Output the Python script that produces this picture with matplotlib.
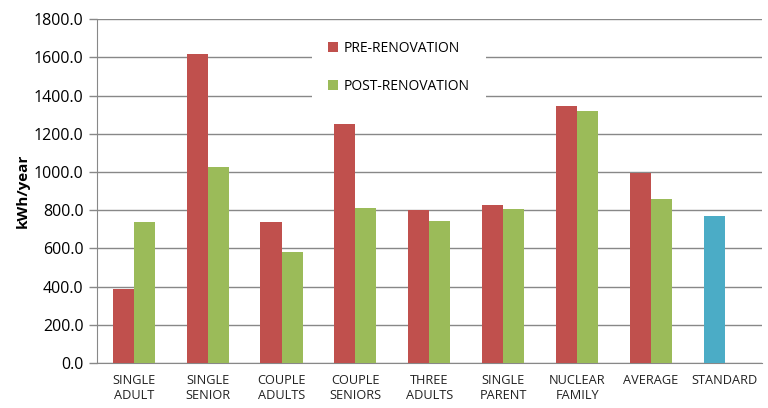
import matplotlib.pyplot as plt
import numpy as np

# Données
categories = ['SINGLE\nADULT', 'SINGLE\nSENIOR', 'COUPLE\nADULTS', 'COUPLE\nSENIORS',
              'THREE\nADULTS', 'SINGLE\nPARENT', 'NUCLEAR\nFAMILY', 'AVERAGE', 'STANDARD']
pre = [387, 1617, 739, 1254, 799, 830, 1345, 994]
post = [738, 1025, 582, 810, 743, 807, 1320, 860]
standard = [769]

plt.rcParams['font.family'] = ['Open Sans', 'DejaVu Sans']

fig = plt.figure(figsize=(7.68, 4.08), dpi=100)
ax = fig.add_axes([0.126, 0.110, 0.866, 0.843])

x = np.arange(len(categories))
w = 0.285
xp = x[:len(pre)]
ax.bar(xp - w / 2, pre, width=w, color='#C0504D', label='PRE-RENOVATION', zorder=3)
ax.bar(xp + w / 2, post, width=w, color='#9BBB59', label='POST-RENOVATION', zorder=3)
ax.bar(x[len(pre):] - w / 2, standard, width=w, color='#4BACC6', zorder=3)

ax.set_xlim(-0.5, len(categories) - 0.5)
ax.set_ylim(0, 1800)
ax.set_yticks(np.arange(0, 1801, 200))
ax.set_yticklabels([f'{v:.1f}' for v in np.arange(0, 1801, 200)], fontsize=11.5)
ax.set_xticks(x)
ax.set_xticklabels(categories, fontsize=9.2, color='#222222')
ax.tick_params(axis='x', length=0, pad=8)
ax.tick_params(axis='y', length=6, color='#888888', width=1)
ax.yaxis.grid(True, color='#888888', linewidth=1, zorder=0)
ax.set_ylabel('kWh/year', fontsize=11, fontweight='bold', labelpad=3)

for s in ['top', 'right']:
    ax.spines[s].set_visible(False)
for s in ['left', 'bottom']:
    ax.spines[s].set_color('#888888')

leg = ax.legend(loc='upper left', bbox_to_anchor=(0.323, 0.985), frameon=True,
                fontsize=10, labelspacing=1.65, handlelength=0.7, handleheight=0.7,
                handletextpad=0.4, borderpad=1.2, borderaxespad=0)
leg.get_frame().set_edgecolor('none')
leg.get_frame().set_facecolor('white')
leg.get_frame().set_alpha(1)
leg.set_zorder(5)

fig.savefig('out.png', dpi=100)
